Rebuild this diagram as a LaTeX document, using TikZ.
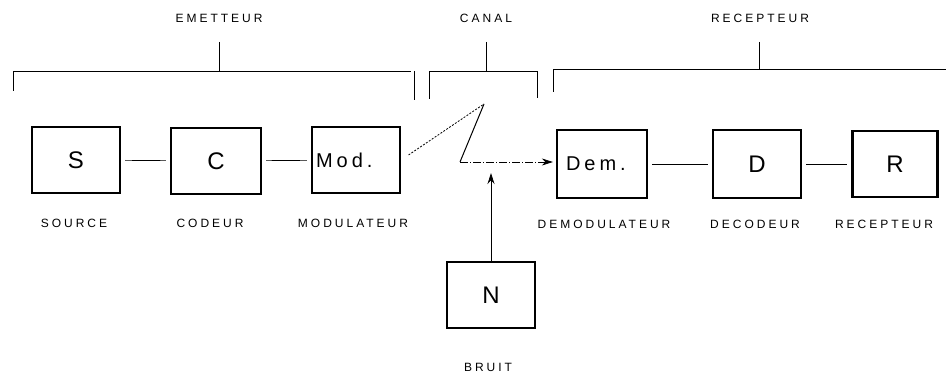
\documentclass[tikz,border=0pt]{standalone}
\usepackage{fontspec}
\setmainfont{Liberation Sans}
\newfontfamily\lblfont[LetterSpace=25]{Liberation Sans}
\newfontfamily\boxfont[LetterSpace=20]{Liberation Sans}
\usetikzlibrary{arrows.meta, positioning}

\begin{document}
\begin{tikzpicture}[
    x=1pt, y=-1pt,
    block/.style={rectangle, draw, line width=2.2pt, minimum width=88pt, minimum height=66pt, inner sep=0pt, font=\boxfont\fontsize{24}{24}\selectfont},
    abbr/.style={block, inner xsep=4pt, text width=80pt, align=left, font=\boxfont\fontsize{20}{20}\selectfont},
    tag/.style={inner sep=0pt, font=\lblfont\fontsize{12}{12}\selectfont},
    link/.style={line width=0.7pt, shorten <=4pt, shorten >=4pt},
    sig/.style={-{Stealth[length=11pt, width=7pt]}, line width=0.8pt},
    brace/.style={line width=0.8pt}
]
\useasboundingbox (0,0) rectangle (946,377);

% top labels and brackets
\node[tag] (emet) at (219,18) {EMETTEUR};
\node[tag] (canal) at (486,18) {CANAL};
\node[tag] (recep) at (760,18) {RECEPTEUR};
\draw[brace] (13,91) |- (411,71);
\draw[brace] (414,71) -- (414,100);
\draw[brace] (219,42) -- (219,71);
\draw[brace] (429,99) |- (537,71) -- (537,98);
\draw[brace] (486,42) -- (486,71);
\draw[brace] (553,92) |- (946,69);
\draw[brace] (759,42) -- (759,69);

% emitter chain
\node[block] (src) at (76,160) {S};
\node[block, minimum width=90pt] (cod) at (216,161) {C};
\node[abbr] (mod) at (356,160) {Mod.};
\node[tag] (srcl) at (74,223) {SOURCE};
\node[tag] (codl) at (210,223) {CODEUR};
\node[tag] (modl) at (353,223) {MODULATEUR};
\draw[link] (src) -- (cod);
\draw[link] (cod) -- (mod);

% channel
\coordinate (btop) at (484,104);
\coordinate (bbot) at (460,162);
\draw[line width=0.8pt, dash pattern=on 2pt off 1.5pt, shorten <=9pt] (mod.east) -- (btop);
\draw[line width=1pt] (btop) -- (bbot);

% receiver chain
\node[abbr, inner xsep=9pt, text width=72pt, minimum height=68pt] (dem) at (602,164) {Dem.};
\node[block, minimum height=68pt] (dec) at (757,164) {D};
\node[block, minimum width=85pt] (rec) at (895,164) {R};
\node[tag] (deml) at (604,224) {DEMODULATEUR};
\node[tag] (decl) at (755,224) {DECODEUR};
\node[tag] (recl) at (884,224) {RECEPTEUR};
\draw[sig, dash pattern=on 8pt off 2pt on 1pt off 2pt, shorten >=3pt] (bbot) -- (bbot -| dem.west);
\draw[link] (dem) -- (dec);
\draw[link] (dec) -- (rec);

% noise
\node[block] (nz) at (491,295) {N};
\node[tag] (nzl) at (488,367) {BRUIT};
\coordinate (nztip) at (491,173);
\draw[sig] (nz) -- (nztip);
\end{tikzpicture}
\end{document}
